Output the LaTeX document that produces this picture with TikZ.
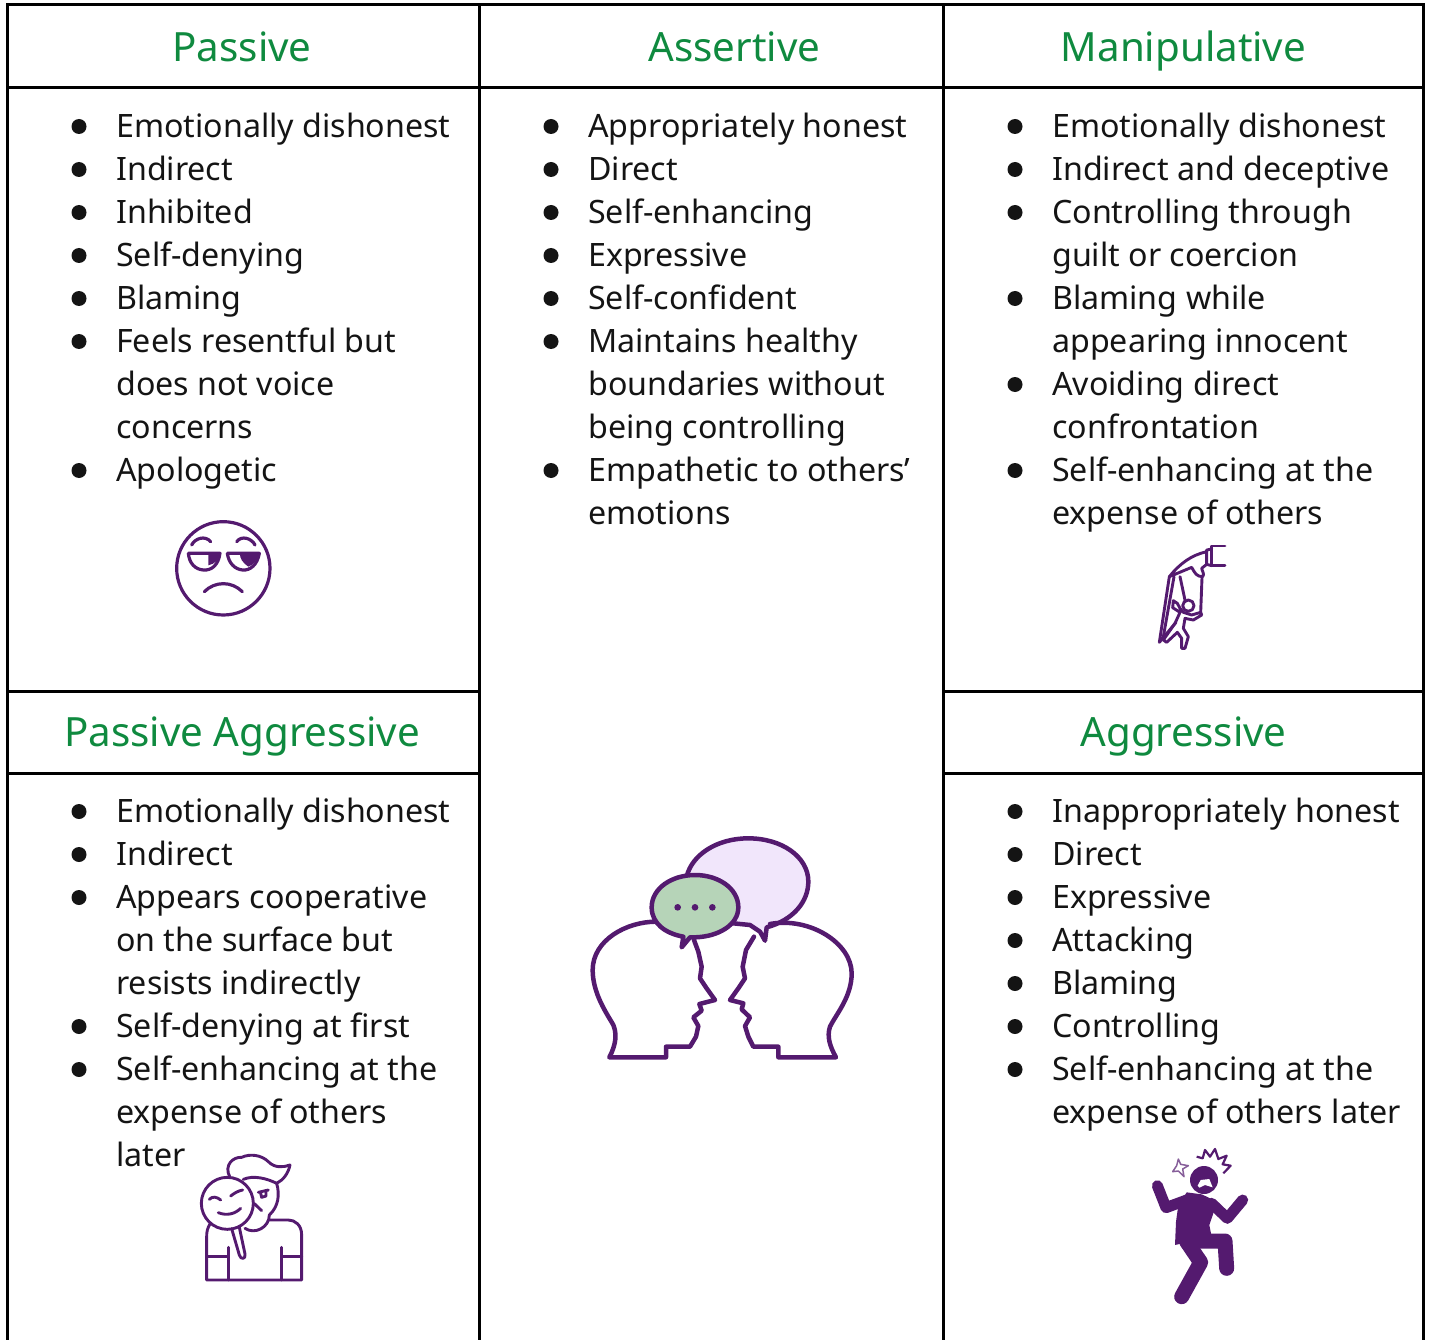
\documentclass[tikz,border=0pt]{standalone}
\usepackage{fontspec}
\setmainfont{Noto Sans}
\definecolor{headgreen}{HTML}{0F8A3F}
\definecolor{iconpurple}{HTML}{541A6F}
\definecolor{bubblegreen}{HTML}{B6D4B8}
\definecolor{bubblelilac}{HTML}{F1E6FB}
\tikzset{
  gridline/.style={line width=3pt,black},
  head/.style={text=headgreen,font=\fontsize{40.3}{46}\selectfont,anchor=base,inner sep=0pt},
  body/.style={text=black!92,font=\fontsize{32.2}{37}\selectfont,anchor=base west,inner sep=0pt},
  icon/.style={draw=iconpurple,line width=2.9pt,line join=round,line cap=round},
  iconthin/.style={draw=iconpurple,line width=3.2pt,line join=round,line cap=round},
  iconthick/.style={draw=iconpurple,line width=4.5pt,line join=round,line cap=round},
}
\newcommand{\bul}[2]{\fill[black!92] (#1,#2-10.5) circle (7.5);}
\newcommand{\itemrow}[4]{\bul{#1}{#2}\node[body] (#3) at (#1+37,#2+0.5) {#4};}
\newcommand{\rowline}[4]{\node[body] (#3) at (#1+37,#2+0.5) {#4};}
\begin{document}
\begin{tikzpicture}[x=1pt,y=-1pt]
\useasboundingbox (0,0) rectangle (1429,1340);
% grid
\draw[gridline] (7.5,1340) -- (7.5,5) -- (1423.5,5) -- (1423.5,1340);
\draw[gridline] (479.5,5) -- (479.5,1340);
\draw[gridline] (943.5,5) -- (943.5,1340);
\draw[gridline] (7.5,88) -- (1423.5,88);
\draw[gridline] (7.5,691) -- (479.5,691);
\draw[gridline] (7.5,773) -- (479.5,773);
\draw[gridline] (943.5,691) -- (1423.5,691);
\draw[gridline] (943.5,773) -- (1423.5,773);
% headers
\node[head] (hpassive) at (242,61.5) {Passive};
\node[head] (hassert) at (734.5,61.5) {Assertive};
\node[head] (hmanip) at (1183.5,61.5) {Manipulative};
\node[head] (hpa) at (242,746.5) {Passive Aggressive};
\node[head] (hagg) at (1183.5,746.5) {Aggressive};
% Passive
\itemrow{79}{137}{pa}{Emotionally dishonest}
\itemrow{79}{180}{pb}{Indirect}
\itemrow{79}{223}{pc}{Inhibited}
\itemrow{79}{266}{pd}{Self-denying}
\itemrow{79}{309}{pe}{Blaming}
\itemrow{79}{352}{pf}{Feels resentful but}
\rowline{79}{395}{pg}{does not voice}
\rowline{79}{438}{ph}{concerns}
\itemrow{79}{481}{pi}{Apologetic}
% Assertive
\itemrow{551}{137}{aa}{Appropriately honest}
\itemrow{551}{180}{ab}{Direct}
\itemrow{551}{223}{ac}{Self-enhancing}
\itemrow{551}{266}{ad}{Expressive}
\itemrow{551}{309}{ae}{Self-confident}
\itemrow{551}{352}{af}{Maintains healthy}
\rowline{551}{395}{ag}{boundaries without}
\rowline{551}{438}{ah}{being controlling}
\itemrow{551}{481}{ai}{Empathetic to others’}
\rowline{551}{524}{aj}{emotions}
% Manipulative
\itemrow{1015}{137}{ma}{Emotionally dishonest}
\itemrow{1015}{180}{mb}{Indirect and deceptive}
\itemrow{1015}{223}{mc}{Controlling through}
\rowline{1015}{266}{md}{guilt or coercion}
\itemrow{1015}{309}{me}{Blaming while}
\rowline{1015}{352}{mf}{appearing innocent}
\itemrow{1015}{395}{mg}{Avoiding direct}
\rowline{1015}{438}{mh}{confrontation}
\itemrow{1015}{481}{mi}{Self-enhancing at the}
\rowline{1015}{524}{mj}{expense of others}
% Passive aggressive
\itemrow{79}{822}{qa}{Emotionally dishonest}
\itemrow{79}{865}{qb}{Indirect}
\itemrow{79}{908}{qc}{Appears cooperative}
\rowline{79}{951}{qd}{on the surface but}
\rowline{79}{994}{qe}{resists indirectly}
\itemrow{79}{1037}{qf}{Self-denying at first}
\itemrow{79}{1080}{qg}{Self-enhancing at the}
\rowline{79}{1123}{qh}{expense of others}
\rowline{79}{1166}{qi}{later}
% Aggressive
\itemrow{1015}{822}{ga}{Inappropriately honest}
\itemrow{1015}{865}{gb}{Direct}
\itemrow{1015}{908}{gc}{Expressive}
\itemrow{1015}{951}{gd}{Attacking}
\itemrow{1015}{994}{ge}{Blaming}
\itemrow{1015}{1037}{gf}{Controlling}
\itemrow{1015}{1080}{gg}{Self-enhancing at the}
\rowline{1015}{1123}{gh}{expense of others later}
% sad face
\begin{scope}[shift={(140,500)},scale=1/3]
\draw[iconthin] (250,205) circle (140);
\fill[iconpurple] (205,160) -- (240,160) .. controls (238,178) and (225,192) .. (205,196) -- cycle;
\fill[iconpurple] (300,160) -- (358,160) .. controls (352,180) and (340,195) .. (325,200) .. controls (310,190) and (298,175) .. (300,160) -- cycle;
\draw[iconthin] (145,160) -- (240,160) .. controls (235,195) and (215,212) .. (190,210) .. controls (165,208) and (148,190) .. (145,160);
\draw[iconthin] (262,160) -- (358,160) .. controls (352,195) and (330,212) .. (308,210) .. controls (285,208) and (266,190) .. (262,160);
\draw[iconthin] (155,135) .. controls (165,115) and (195,105) .. (212,125);
\draw[iconthin] (290,125) .. controls (305,105) and (335,115) .. (345,135);
\draw[iconthin] (193,275) .. controls (225,243) and (275,243) .. (307,275);
\end{scope}
% puppet
\begin{scope}[shift={(1130,535)},scale=1/3]
\draw[icon] (285,33) -- (245,33) -- (245,92) -- (285,92);
\draw[icon] (245,42) -- (230,45) -- (230,88) -- (245,92);
\draw[icon] (230,50) .. controls (185,60) and (150,85) .. (118,125) -- (185,97) .. controls (195,115) and (200,125) .. (218,125) .. controls (225,118) and (215,105) .. (215,100) -- (230,88);
\draw[icon] (118,125) -- (88,322) -- (138,262);
\draw[icon] (132,125) -- (100,305);
\draw[icon] (150,125) -- (166,200);
\draw[icon] (216,128) -- (212,232);
\draw[icon] (175,212) circle (17);
\draw[icon] (150,232) -- (128,218) -- (130,197) -- (142,205) -- (150,220) -- (160,232)
  -- (185,240) -- (212,232) -- (215,240) -- (190,255) -- (165,250) -- (160,280) -- (175,305) -- (165,340) -- (155,340) -- (155,310) -- (142,292) -- (110,322) -- (100,315) -- (135,265) -- (150,232);
\end{scope}
% heads and bubbles
\begin{scope}[shift={(570,820)},scale=1/3]
\filldraw[iconthick,fill=bubblelilac] (570,335) -- (585,362) -- (590,322)
  .. controls (670,300) and (715,245) .. (715,185)
  .. controls (715,110) and (635,55) .. (535,55)
  .. controls (440,55) and (365,105) .. (350,170) -- (490,310) -- (540,315) -- cycle;
\filldraw[iconthick,fill=bubblegreen] (375,165) .. controls (445,165) and (505,205) .. (505,262)
  .. controls (505,315) and (445,350) .. (375,352) -- (360,352) -- (335,382) -- (340,350)
  .. controls (285,340) and (245,310) .. (245,262)
  .. controls (245,205) and (305,165) .. (375,165) -- cycle;
\fill[iconpurple] (323,262) circle (10) (375,262) circle (10) (427,262) circle (10);
\draw[iconthick] (258,305) .. controls (170,305) and (68,360) .. (68,450)
  .. controls (68,520) and (110,580) .. (130,615) .. controls (140,640) and (140,670) .. (118,712)
  -- (288,712) -- (288,680) -- (360,680) -- (378,650) -- (385,618) -- (370,592) -- (395,572) -- (388,552) -- (435,540)
  -- (410,505) -- (390,475) -- (395,440) -- (385,395) -- (372,360);
\draw[iconthick] (600,312) .. controls (720,290) and (845,370) .. (845,460)
  .. controls (845,530) and (800,580) .. (780,620) .. controls (770,650) and (780,680) .. (798,712)
  -- (625,712) -- (625,680) -- (550,680) -- (535,650) -- (525,618) -- (540,592) -- (515,568) -- (520,550) -- (480,540)
  -- (505,505) -- (525,475) -- (518,440) -- (528,390) -- (552,350);
\end{scope}
% mask
\begin{scope}[shift={(180,1140)},scale=1/3]
\draw[icon] (142,190) circle (78);
\draw[icon] (155,266) -- (178,345) .. controls (182,360) and (198,358) .. (195,342) -- (178,262);
\draw[icon] (88,178) .. controls (98,168) and (110,170) .. (122,180);
\draw[icon] (152,168) .. controls (162,160) and (175,152) .. (188,150);
\draw[icon] (115,218) .. controls (140,228) and (165,222) .. (182,205);
\draw[icon] (150,112) .. controls (130,75) and (160,50) .. (185,52) .. controls (210,40) and (245,45) .. (265,65) .. controls (285,85) and (310,82) .. (330,75) .. controls (325,100) and (310,120) .. (290,130);
\draw[icon] (190,118) .. controls (220,105) and (260,115) .. (290,130) .. controls (300,165) and (295,200) .. (268,225) .. controls (268,262) and (225,285) .. (195,265);
\draw[icon] (235,157) -- (265,150) (242,160) -- (245,172) -- (258,168) -- (258,155);
\draw[icon] (222,190) -- (245,212);
\draw[icon] (90,252) .. controls (82,265) and (80,275) .. (80,290) -- (80,420) -- (365,420) -- (365,285) .. controls (365,255) and (345,240) .. (325,240) -- (268,240);
\draw[icon] (80,350) -- (145,350) (145,322) -- (145,420) (305,322) -- (305,420) (305,350) -- (365,350);
\end{scope}
% aggressive figure
\begin{scope}[shift={(1130,1135)},scale=1/3]
\fill[iconpurple] (222,135) circle (42);
\fill[white] (203,152) -- (212,135) -- (238,132) -- (248,157) -- (225,150) -- (208,158) -- cycle;
\fill[iconpurple] (170,172) -- (215,178) -- (262,200) -- (238,270) -- (245,305) -- (135,330) -- (138,260) -- (145,210) -- cycle;
\draw[iconpurple,line width=11pt,line cap=round,line join=round] (82,152) -- (108,218) -- (170,195);
\draw[iconpurple,line width=11pt,line cap=round,line join=round] (245,205) -- (292,250) -- (338,195);
\draw[iconpurple,line width=15pt,line cap=round,line join=round] (170,318) -- (285,318) -- (290,400);
\draw[iconpurple,line width=15pt,line cap=round,line join=round] (170,320) -- (212,382) -- (155,485);
\draw[iconpurple,line width=2.2pt,line join=round] (200,65) -- (218,70) -- (225,45) -- (240,65) -- (255,42) -- (265,72) -- (290,62) -- (278,88) -- (302,92) -- (280,115);
\draw[iconpurple!70,line width=1.5pt,line join=round] (145,72) -- (152,88) -- (175,92) -- (158,102) -- (162,125) -- (145,108) -- (128,110) -- (140,92) -- cycle;
\end{scope}
\end{tikzpicture}
\end{document}
